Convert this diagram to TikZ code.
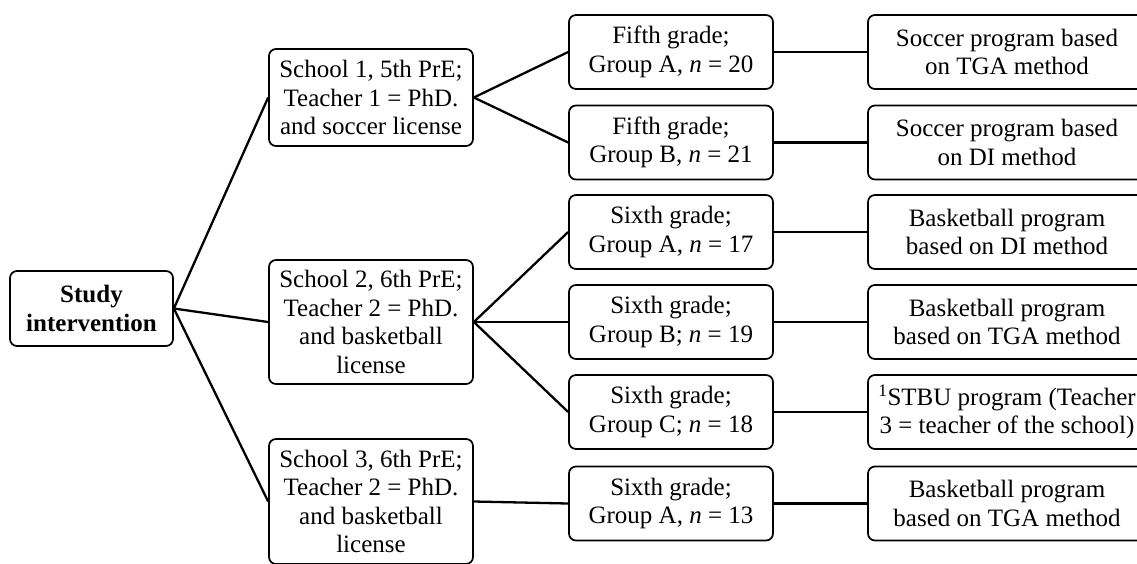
\documentclass[tikz,border=0pt]{standalone}
\usepackage{fontspec}
\setmainfont{Liberation Serif}
\begin{document}
\begin{tikzpicture}[x=1pt,y=-1pt,
  box/.style={draw, rounded corners=7pt, line width=1.7pt, align=center, inner sep=0pt,
    font=\fontsize{25}{28.5}\selectfont},
  studybox/.style={box, minimum width=163pt, minimum height=75pt, font=\fontsize{25}{28.5}\selectfont\bfseries},
  schoolbox/.style={box, minimum width=204pt},
  gradebox/.style={box, minimum width=204pt, minimum height=74pt},
  progbox/.style={box, minimum width=278pt, minimum height=74pt},
  link/.style={line width=2.3pt}]
\clip (0,0) rectangle (1137,563);
\fill[white] (0,0) rectangle (1137,563);
\node[studybox] (study) at (91.5,308.5) {Study\\intervention};
\node[schoolbox, minimum height=97pt] (s1) at (371,97.5) {School 1, 5th PrE;\\Teacher 1 = PhD.\\and soccer license};
\node[schoolbox, minimum height=124pt] (s2) at (371,322) {School 2, 6th PrE;\\Teacher 2 = PhD.\\and basketball\\license};
\node[schoolbox, minimum height=125pt] (s3) at (371,501.5) {School 3, 6th PrE;\\Teacher 2 = PhD.\\and basketball\\license};
\node[gradebox] (g1) at (671,52) {Fifth grade;\\Group A, \textit{n} = 20};
\node[gradebox] (g2) at (671,142.5) {Fifth grade;\\Group B, \textit{n} = 21};
\node[gradebox] (g3) at (671,232) {Sixth grade;\\Group A, \textit{n} = 17};
\node[gradebox] (g4) at (671,322) {Sixth grade;\\Group B; \textit{n} = 19};
\node[gradebox] (g5) at (671,412) {Sixth grade;\\Group C; \textit{n} = 18};
\node[gradebox] (g6) at (671,503.5) {Sixth grade;\\Group A, \textit{n} = 13};
\node[progbox] (p1) at (1007,52) {Soccer program based\\on TGA method};
\node[progbox] (p2) at (1007,142.5) {Soccer program based\\on DI method};
\node[progbox] (p3) at (1007,232) {Basketball program\\based on DI method};
\node[progbox] (p4) at (1007,322) {Basketball program\\based on TGA method};
\node[progbox] (p5) at (1007,412) {\textsuperscript{1}STBU program (Teacher\\3 = teacher of the school)};
\node[progbox] (p6) at (1007,503.5) {Basketball program\\based on TGA method};
\draw[link] (study.east) -- (s1.west);
\draw[link] (study.east) -- (s2.west);
\draw[link] (study.east) -- (s3.west);
\draw[link] (s1.east) -- (g1.west);
\draw[link] (s1.east) -- (g2.west);
\draw[link] (s2.east) -- (g3.west);
\draw[link] (s2.east) -- (g4.west);
\draw[link] (s2.east) -- (g5.west);
\draw[link] (s3.east) -- (g6.west);
\draw[link] (g1.east) -- (p1.west);
\draw[link] (g2.east) -- (p2.west);
\draw[link] (g3.east) -- (p3.west);
\draw[link] (g4.east) -- (p4.west);
\draw[link] (g5.east) -- (p5.west);
\draw[link] (g6.east) -- (p6.west);
\end{tikzpicture}
\end{document}
